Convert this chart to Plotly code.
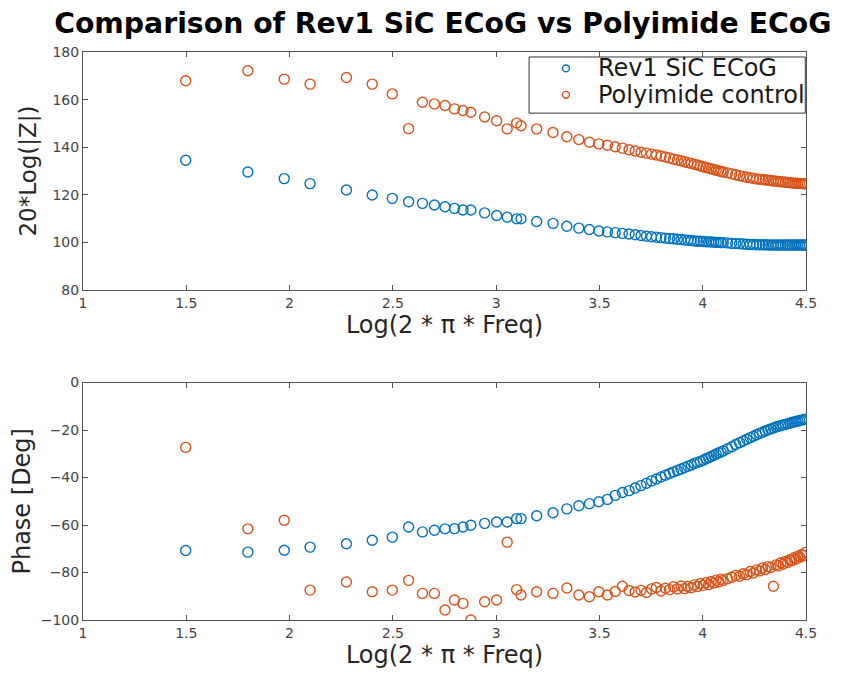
import math
import plotly.graph_objects as go

# Frequencies (Hz); x axis is log10(2*pi*f)
freq = [5, 10, 15, 20, 30, 40, 50, 60, 70, 80, 90, 100, 110, 120, 140, 160, 180, 200, 210, 250,
        300, 350, 400, 450, 500, 550, 600, 650, 700, 750, 800, 850, 900, 950, 1000, 1050, 1100,
        1150, 1200, 1250, 1300, 1350, 1400, 1450, 1500, 1550, 1600, 1650, 1700, 1750, 1800, 1850,
        1900, 1950, 2000,
        2100, 2200, 2300, 2400, 2500, 2600, 2700, 2800, 2900, 3000, 3100, 3200, 3300, 3400, 3500,
        3600, 3700, 3800, 3900, 4000, 4100, 4200, 4300, 4400, 4500, 4600, 4700, 4800, 4900, 5000]

sic_mag = [134.5, 129.6, 126.8, 124.7, 122.0, 119.9, 118.5, 117.1, 116.4, 115.7, 115.0, 114.3,
           113.6, 113.6, 112.4, 111.3, 110.6, 109.9, 109.9, 108.8,
           108.0, 106.8, 106.0, 105.4, 104.8, 104.4, 104.1, 103.8, 103.5, 103.2, 102.9, 102.6,
           102.4, 102.2, 102.0, 101.8, 101.6, 101.5, 101.3, 101.2, 101.0, 100.9, 100.8, 100.6,
           100.5, 100.5, 100.4, 100.3, 100.2, 100.2, 100.1, 100.0, 100.0, 99.9, 99.9,
           99.8, 99.6, 99.5, 99.4, 99.3, 99.2, 99.1, 99.1, 99.0, 99.0, 99.0, 99.0, 98.9, 98.9,
           98.9, 98.9, 98.9, 98.9, 98.9, 98.9, 98.9, 98.9, 98.9, 98.9, 98.9, 98.9, 98.9, 98.9,
           98.9, 98.9]

poly_mag = [167.9, 172.1, 168.6, 166.5, 169.3, 166.5, 162.4, 147.8, 158.9, 158.2, 157.5, 156.1,
            155.4, 154.7, 152.7, 151.1, 147.7, 150.2, 149.0, 147.7,
            146.2, 144.4, 143.2, 142.1, 141.4, 140.8, 140.2, 139.6, 138.9, 138.4, 137.9, 137.5,
            137.1, 136.7, 136.3, 135.9, 135.5, 135.0, 134.6, 134.3, 133.9, 133.5, 133.2, 132.8,
            132.5, 132.1, 131.8, 131.5, 131.2, 130.9, 130.6, 130.3, 130.1, 129.8, 129.6,
            129.2, 128.8, 128.4, 128.0, 127.7, 127.4, 127.2, 126.9, 126.7, 126.5, 126.4, 126.3,
            126.1, 126.0, 125.8, 125.7, 125.6, 125.5, 125.4, 125.3, 125.2, 125.1, 125.0, 124.9,
            124.9, 124.8, 124.8, 124.7, 124.7, 124.6]

sic_phase = [-70.7, -71.4, -70.6, -69.3, -67.9, -66.4, -65.1, -60.8, -62.9, -62.2, -61.6, -61.5,
             -60.8, -60.1, -59.3, -58.7, -58.7, -57.3, -57.3, -56.1,
             -54.8, -53.2, -51.9, -51.0, -50.2, -49.2, -47.5, -46.3, -45.5, -44.4, -43.4, -42.4,
             -41.4, -40.6, -39.8, -39.0, -38.3, -37.6, -37.0, -36.4, -35.8, -35.2, -34.7, -34.1,
             -33.6, -33.2, -32.7, -32.1, -31.6, -31.1, -30.6, -30.1, -29.6, -29.2, -28.8,
             -27.9, -27.0, -26.1, -25.3, -24.6, -23.9, -23.2, -22.6, -22.0, -21.4, -20.9, -20.4,
             -19.9, -19.5, -19.1, -18.7, -18.4, -18.1, -17.8, -17.6, -17.3, -17.1, -16.8, -16.6,
             -16.4, -16.2, -16.0, -15.8, -15.6, -15.4]

poly_phase = [-27.3, -61.6, -58.0, -87.4, -84.0, -88.1, -87.4, -83.3, -88.8, -88.8, -95.8, -91.6,
              -93.0, -100.0, -92.3, -91.6, -67.2, -87.2, -89.5, -88.1,
              -88.8, -86.5, -89.5, -90.2, -88.1, -89.5, -88.0, -85.8, -87.6, -88.2, -87.5, -88.4,
              -86.9, -86.3, -87.8, -86.6, -87.2, -86.0, -86.9, -85.7, -86.8, -85.9, -86.4, -85.2,
              -85.9, -84.6, -85.4, -84.3, -85.1, -83.8, -84.4, -83.2, -84.0, -82.8, -83.3,
              -82.6, -82.0, -81.2, -81.6, -80.5, -80.9, -79.6, -80.2, -78.9, -79.3, -78.1, -78.7,
              -77.5, -77.9, -85.8, -76.8, -77.2, -75.9, -76.4, -75.3, -75.8, -74.6, -75.0, -73.8,
              -74.3, -73.1, -73.6, -72.4, -72.9, -71.5]

series_names = ["Rev1 SiC ECoG", "Polyimide control"]
x_ticks = [1, 1.5, 2, 2.5, 3, 3.5, 4, 4.5]
x_tick_text = ["1", "1.5", "2", "2.5", "3", "3.5", "4", "4.5"]
mag_ticks = [80, 100, 120, 140, 160, 180]
phase_ticks = [-100, -80, -60, -40, -20, 0]

xlog = [math.log10(2 * math.pi * f) for f in freq]

BLUE = "#0072BD"
ORANGE = "#D95319"
COLORS = [BLUE, ORANGE]
FONT = "DejaVu Sans, Liberation Sans, sans-serif"


def mk(name, y, color, xa, ya):
    return go.Scatter(
        x=xlog, y=y, mode="markers", name=name, xaxis=xa, yaxis=ya, showlegend=False,
        marker=dict(symbol="circle-open", size=10, color=color, line=dict(width=1.4, color=color)),
    )


fig = go.Figure()
fig.add_trace(mk(series_names[0], sic_mag, BLUE, "x", "y"))
fig.add_trace(mk(series_names[1], poly_mag, ORANGE, "x", "y"))
fig.add_trace(mk(series_names[0], sic_phase, BLUE, "x2", "y2"))
fig.add_trace(mk(series_names[1], poly_phase, ORANGE, "x2", "y2"))

# MATLAB-style legend box in the top axes (drawn in axis-domain coordinates)
fig.add_shape(type="rect", xref="x domain", yref="y domain", x0=0.617, x1=0.999, y0=0.743, y1=0.979,
              line=dict(color="#333333", width=1), fillcolor="white", layer="above")
row_y = [0.931, 0.820]
for name, col, yy in zip(series_names, COLORS, row_y):
    fig.add_shape(type="circle", xref="x domain", yref="y domain",
                  x0=0.668 - 0.0048, x1=0.668 + 0.0048, y0=yy - 0.0145, y1=yy + 0.0145,
                  line=dict(color=col, width=1.4), fillcolor="rgba(0,0,0,0)", layer="above")
    fig.add_annotation(xref="x domain", yref="y domain", x=0.709, y=yy, text=name,
                       showarrow=False, xanchor="left", yanchor="middle",
                       font=dict(size=24, color="#1a1a1a", family=FONT))

axcol = "#555555"
tickfont = dict(size=14, color="#444444", family=FONT)
common_x = dict(range=[1, 4.5], tickvals=x_ticks, ticktext=x_tick_text, showgrid=False,
                zeroline=False, showline=True, linecolor=axcol, linewidth=1, mirror="ticks",
                ticks="inside", ticklen=5, tickcolor=axcol, tickfont=tickfont,
                title=dict(text="Log(2 * \u03c0 * Freq)", font=dict(size=24, color="#262626", family=FONT),
                           standoff=4))
common_y = dict(showgrid=False, zeroline=False, showline=True, linecolor=axcol, linewidth=1,
                mirror="ticks", ticks="inside", ticklen=5, tickcolor=axcol, tickfont=tickfont)

fig.update_layout(
    width=841, height=666,
    paper_bgcolor="white", plot_bgcolor="white",
    margin=dict(l=73, r=43, t=44, b=50),
    font=dict(family=FONT),
    showlegend=False,
    title=dict(text="<b>Comparison of Rev1 SiC ECoG vs Polyimide ECoG</b>",
               font=dict(size=28.3, color="black", family=FONT),
               x=0.517, xanchor="center", y=0.977, yanchor="middle"),
    xaxis=dict(domain=[0, 1], anchor="y", **common_x),
    yaxis=dict(domain=[0.581, 1], anchor="x", range=[80, 180], tickvals=mag_ticks,
               title=dict(text="20*Log(|Z|)", font=dict(size=23, color="#262626", family=FONT),
                          standoff=9),
               **common_y),
    xaxis2=dict(domain=[0, 1], anchor="y2", **common_x),
    yaxis2=dict(domain=[0, 0.418], anchor="x2", range=[-100, 0], tickvals=phase_ticks,
                title=dict(text="Phase [Deg]", font=dict(size=24, color="#262626", family=FONT),
                           standoff=4),
                **common_y),
)

fig.write_html("out.html")
